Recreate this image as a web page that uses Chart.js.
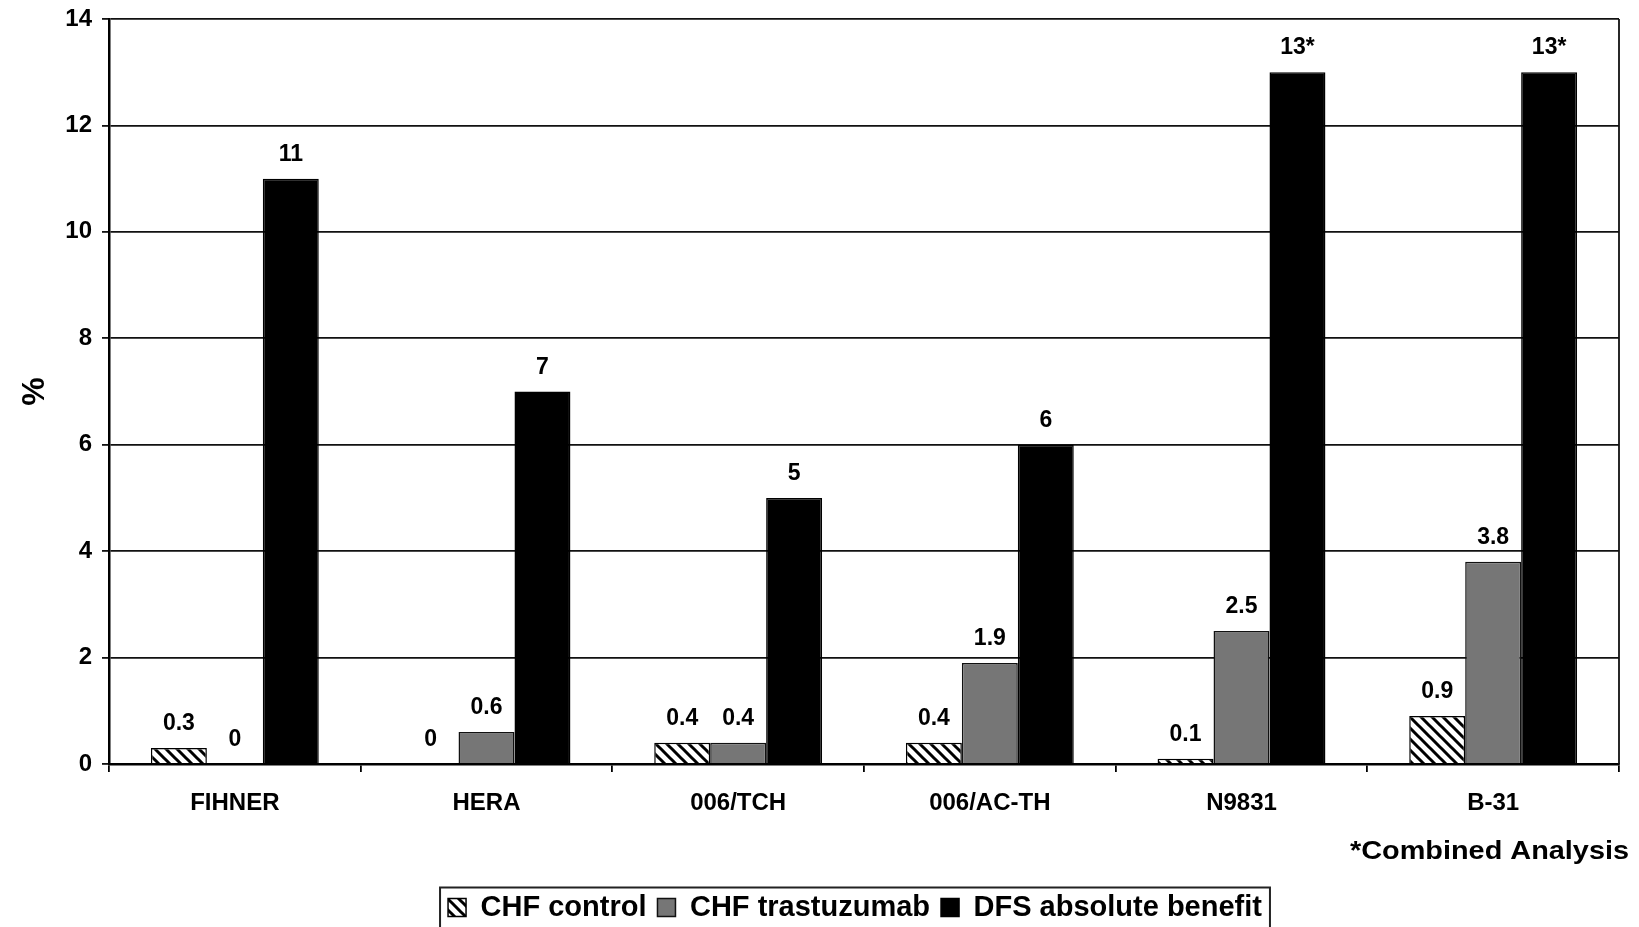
<!DOCTYPE html>
<html>
<head>
<meta charset="utf-8">
<script src="https://cdn.jsdelivr.net/npm/chart.js@4.4.1/dist/chart.umd.min.js"></script>
<style>
  html, body { margin: 0; padding: 0; background: #fff; overflow: hidden; }
  #wrap { position: relative; width: 1639px; height: 940px; }
</style>
</head>
<body>
<div id="wrap"><canvas id="chart"></canvas></div>
<script>
// Trials and their outcomes (%)
const trials = ['FIHNER', 'HERA', '006/TCH', '006/AC-TH', 'N9831', 'B-31'];
const chfControl = [0.3, 0, 0.4, 0.4, 0.1, 0.9];
const chfTrastuzumab = [0, 0.6, 0.4, 1.9, 2.5, 3.8];
const dfsBenefit = [11, 7, 5, 6, 13, 13];
const dfsCombined = [false, false, false, false, true, true];
const yTicks = [0, 2, 4, 6, 8, 10, 12, 14];
const seriesNames = ['CHF control', 'CHF trastuzumab', 'DFS absolute benefit'];
const footnote = '*Combined Analysis';

const FONT = "'Liberation Sans', Arial, Helvetica, sans-serif";

// Diagonal hatch fill for the control series
function makeHatch() {
  const p = 11;
  const c = document.createElement('canvas');
  c.width = p; c.height = p;
  const g = c.getContext('2d');
  g.fillStyle = '#fff';
  g.fillRect(0, 0, p, p);
  g.strokeStyle = '#000';
  g.lineWidth = 3;
  g.beginPath();
  g.moveTo(-1, -1); g.lineTo(p + 1, p + 1);
  g.moveTo(-2, p - 2); g.lineTo(2, p + 2);
  g.moveTo(p - 2, -2); g.lineTo(p + 2, 2);
  g.stroke();
  return g.createPattern(c, 'repeat');
}
const hatchPattern = makeHatch();

// Value labels above each bar
const valueLabels = {
  id: 'valueLabels',
  afterDatasetsDraw(chart) {
    const ctx = chart.ctx;
    ctx.save();
    ctx.font = 'bold 23px ' + FONT;
    ctx.fillStyle = '#000';
    ctx.textAlign = 'center';
    ctx.textBaseline = 'alphabetic';
    chart.data.datasets.forEach((ds, i) => {
      const meta = chart.getDatasetMeta(i);
      meta.data.forEach((bar, j) => {
        let txt = String(ds.data[j]);
        if (i === 2 && dfsCombined[j]) txt += '*';
        ctx.fillText(txt, bar.x, bar.y - 18);
      });
    });
    ctx.restore();
  }
};

// Right-hand frame of the plot, legend border and footnote
const frameAndNotes = {
  id: 'frameAndNotes',
  afterLayout(chart) {
    const lg = chart.legend;
    const dx = -9;
    lg.left += dx; lg.right += dx;
  },
  afterDraw(chart) {
    const ctx = chart.ctx;
    const a = chart.chartArea;
    ctx.save();
    ctx.strokeStyle = '#111';
    ctx.lineWidth = 1.8;
    ctx.beginPath();
    ctx.moveTo(a.right, a.top);
    ctx.lineTo(a.right, a.bottom);
    ctx.stroke();

    const hb = chart.legend.legendHitBoxes;
    if (hb && hb.length) {
      const l = Math.min(...hb.map(h => h.left)) - 8;
      const r = Math.max(...hb.map(h => h.left + h.width)) + 8;
      const t = hb[0].top + hb[0].height / 2 - 20;
      ctx.lineWidth = 2;
      ctx.strokeStyle = '#222';
      ctx.strokeRect(l, t, r - l, 80);
    }

    ctx.font = 'bold 26px ' + FONT;
    ctx.fillStyle = '#000';
    ctx.textAlign = 'right';
    ctx.textBaseline = 'middle';
    ctx.translate(a.right + 10, a.bottom + 88);
    ctx.scale(1.11, 1);
    ctx.fillText(footnote, 0, 0);
    ctx.restore();
  }
};

new Chart(document.getElementById('chart'), {
  type: 'bar',
  data: {
    labels: trials,
    datasets: [
      { label: seriesNames[0], data: chfControl, backgroundColor: hatchPattern, borderColor: '#000', borderWidth: 1.5 },
      { label: seriesNames[1], data: chfTrastuzumab, backgroundColor: '#767676', borderColor: '#111', borderWidth: 1.5 },
      { label: seriesNames[2], data: dfsBenefit, backgroundColor: '#000', borderColor: '#000', borderWidth: 1.5 }
    ]
  },
  options: {
    responsive: true,
    maintainAspectRatio: false,
    animation: false,
    datasets: { bar: { categoryPercentage: 0.667, barPercentage: 1.0, borderSkipped: 'start' } },
    layout: { padding: { top: 19, right: 20, bottom: 8, left: 0 } },
    scales: {
      x: {
        grid: { display: true, drawOnChartArea: false, drawTicks: true, tickLength: 8, color: '#000', lineWidth: 1.8, offset: true },
        border: { display: true, color: '#000', width: 2.5 },
        ticks: { color: '#000', font: { family: FONT, size: 24, weight: 'bold' }, padding: 17, maxRotation: 0 },
        afterFit(scale) { scale.height = 118; }
      },
      y: {
        min: 0, max: 14,
        afterBuildTicks(scale) { scale.ticks = yTicks.map(v => ({ value: v })); },
        grid: { color: '#111', lineWidth: 1.8, tickLength: 7, drawTicks: true },
        border: { display: true, color: '#000', width: 2.5 },
        ticks: { color: '#000', font: { family: FONT, size: 24, weight: 'bold' }, padding: 10 },
        title: { display: true, text: '%', color: '#000', font: { family: FONT, size: 32, weight: 'bold' }, padding: { top: 16, bottom: 0 } },
        afterFit(scale) {
          scale.width = 109;
          scale.paddingTop = 0;
          scale.paddingBottom = 0;
        }
      }
    },
    plugins: {
      tooltip: { enabled: false },
      legend: {
        position: 'bottom',
        fullSize: false,
        labels: {
          color: '#000',
          font: { family: FONT, size: 29, weight: 'bold' },
          boxWidth: 18,
          boxHeight: 18,
          padding: 11
        }
      }
    }
  },
  plugins: [valueLabels, frameAndNotes]
});
</script>
</body>
</html>
